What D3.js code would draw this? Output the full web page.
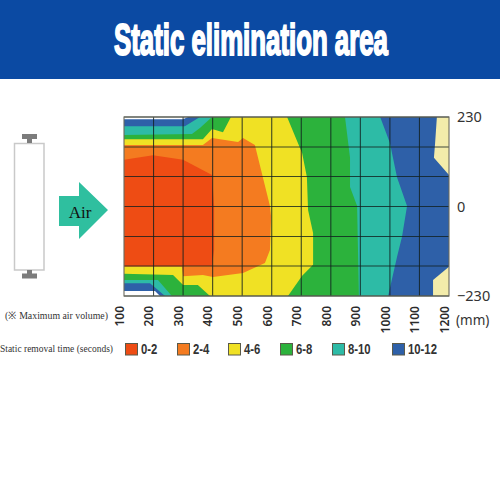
<!DOCTYPE html>
<html>
<head>
<meta charset="utf-8">
<script src="https://cdn.jsdelivr.net/npm/d3@7"></script>
<style>
html,body{margin:0;padding:0;background:#fff}
svg{display:block}
</style>
</head>
<body>
<svg id="chart" width="500" height="500"></svg>
<script>
// Distance from the unit (mm) and lateral offset (mm)
const distanceTicks = [100,200,300,400,500,600,700,800,900,1000,1100,1200];
const offsetTicks = [230,0,-230];
const offsetGrid = [230,153,77,0,-77,-153,-230];

// Removal-time classes
const classes = ["0-2","2-4","4-6","6-8","8-10","10-12"];
const classColors = ["#ee4c14","#f47b20","#f0e124","#2cb23c","#2dbba6","#2e60a8"];

// Outer edge of each time band as [distance, offset]; each band contains the faster ones
const within2 = [[100,120],[198,132],[300,120],[398,81],[405,1],[405,-112],[398,-153],[100,-153]];
const within4 = [[100,158],[367,158],[398,176],[486,166],[503,176],[543,158],[594,1],[598,-27],[594,-112],[577,-145],[503,-171],[401,-181],[367,-176],[300,-179],[296,-155],[100,-155]];
const within6 = [[100,173],[367,173],[398,199],[435,191],[462,230],[652,230],[703,137],[719,76],[723,-9],[740,-68],[740,-150],[703,-178],[655,-230],[391,-230],[350,-202],[300,-202],[266,-176],[100,-173]];
const within8 = [[100,184],[330,186],[357,202],[398,230],[848,230],[865,125],[865,50],[889,1],[895,-230],[262,-230],[215,-189],[100,-189]];
const within10 = [[100,206],[306,206],[357,230],[967,230],[1000,163],[1024,75],[1058,1],[1041,-78],[1024,-130],[994,-230],[239,-230],[188,-197],[100,-197]];
const within12 = [[100,230],[1200,230],[1200,-230],[100,-230]];

// Corners outside the legend's range
const paleTop = [[1159,230],[1153,163],[1149,125],[1200,81],[1200,230]];
const paleBottom = [[1200,-155],[1146,-189],[1146,-230],[1200,-230]];
const blankTop = [[100,230],[100,224],[300,224],[317,230]];
const blankBottom = [[100,-217],[205,-217],[222,-230],[100,-230]];

const svg = d3.select("#chart");
const x = d3.scaleLinear().domain([100,1200]).range([124,449]);
const y = d3.scaleLinear().domain([230,-230]).range([117,296]);
const line = d3.line().x(d=>x(d[0])).y(d=>y(d[1])).curve(d3.curveLinearClosed);

// Header band
svg.append("rect").attr("width",500).attr("height",79).attr("fill","#0b4aa3");
const title = svg.append("text").attr("text-anchor","middle")
  .attr("font-family","'Liberation Sans',sans-serif")
  .attr("font-weight",700).attr("font-size",45)
  .attr("fill","#fff").attr("stroke","#fff").attr("stroke-width",2)
  .text("Static elimination area");
// Condense the heading to its 274px measure
const titleScale = 274 / title.node().getComputedTextLength();
title.attr("transform",`translate(251,55) scale(${titleScale},1)`);

// Filled bands, slowest first
const bands = [
  {pts:within12,fill:classColors[5]},
  {pts:paleTop,fill:"#f3ecaa"},
  {pts:paleBottom,fill:"#f3ecaa"},
  {pts:within10,fill:classColors[4]},
  {pts:within8,fill:classColors[3]},
  {pts:within6,fill:classColors[2]},
  {pts:within4,fill:classColors[1]},
  {pts:within2,fill:classColors[0]},
  {pts:blankTop,fill:"#fff"},
  {pts:blankBottom,fill:"#fff"}
];
svg.append("g").selectAll("path").data(bands).join("path")
  .attr("d",d=>line(d.pts)).attr("fill",d=>d.fill);

// Grid
const grid = svg.append("g").attr("stroke","#12201f").attr("stroke-opacity",0.8).attr("stroke-width",1.1);
grid.selectAll("line.v").data(distanceTicks.slice(1,-1)).join("line").attr("class","v")
  .attr("x1",d=>x(d)).attr("x2",d=>x(d)).attr("y1",y(230)).attr("y2",y(-230));
grid.selectAll("line.h").data(offsetGrid).join("line").attr("class","h")
  .attr("x1",x(100)).attr("x2",x(1200)).attr("y1",d=>y(d)).attr("y2",d=>y(d));
svg.append("rect").attr("x",x(100)).attr("y",y(230))
  .attr("width",x(1200)-x(100)).attr("height",y(-230)-y(230))
  .attr("fill","none").attr("stroke","#6a6a5e").attr("stroke-width",1.1);

// Distance axis, labels turned upright
const xAxis = svg.append("g").attr("transform","translate(0,296)")
  .call(d3.axisBottom(x).tickValues(distanceTicks).tickSize(0).tickFormat(d3.format("d")));
xAxis.select(".domain").remove();
xAxis.selectAll("text")
  .attr("transform","translate(-5,10) rotate(-90)")
  .attr("x",0).attr("y",0).attr("dy","0.36em")
  .attr("text-anchor","end")
  .attr("font-family","'Noto Sans',sans-serif").attr("font-weight",600)
  .attr("font-size",12).attr("fill","#2b2b2b");

// Offset axis on the right
const yAxis = svg.append("g").attr("transform","translate(449,0)")
  .call(d3.axisRight(y).tickValues(offsetTicks).tickSize(0).tickPadding(8)
    .tickFormat(d=>d<0?"\u2212"+Math.abs(d):d));
yAxis.select(".domain").remove();
yAxis.selectAll("text").attr("font-family","'Noto Sans',sans-serif")
  .attr("font-size",14.5).attr("fill","#333");
svg.append("text").attr("x",456).attr("y",325).attr("font-family","'Noto Sans',sans-serif")
  .attr("font-size",13.5).attr("fill","#333").text("(mm)");

// Captions
const serif = "'Liberation Serif',serif";
svg.append("text").attr("x",5).attr("y",319).attr("textLength",103).attr("lengthAdjust","spacingAndGlyphs")
  .attr("font-family",serif).attr("font-size",10.5).attr("fill","#333").text("(\u203B Maximum air volume)");
svg.append("text").attr("x",0).attr("y",352).attr("textLength",113).attr("lengthAdjust","spacingAndGlyphs")
  .attr("font-family",serif).attr("font-size",10.5).attr("fill","#333").text("Static removal time (seconds)");

// Legend
const legendX = [125,177,228,280,332,392];
const legend = svg.append("g").selectAll("g").data(classes).join("g")
  .attr("transform",(d,i)=>`translate(${legendX[i]},343)`);
legend.append("rect").attr("x",0.5).attr("y",0.5).attr("width",12).attr("height",11.5)
  .attr("fill",(d,i)=>classColors[i]).attr("stroke","#5a5a4a").attr("stroke-width",1);
legend.append("text").attr("transform","translate(16,11) scale(0.78,1)")
  .attr("font-family","'Liberation Sans',sans-serif")
  .attr("font-weight",700).attr("font-size",14.5).attr("fill","#333").text(d=>d);

// Bar unit with its mounting brackets
const unit = svg.append("g");
unit.append("rect").attr("x",14.5).attr("y",143.5).attr("width",29.5).attr("height",126.5)
  .attr("fill","#fff").attr("stroke","#c9c9c9").attr("stroke-width",1.5);
unit.append("path").attr("fill","#7c7c7c")
  .attr("d","M22 134H37V139H32V143H27V139H22Z M27 270H32V273.5H37V278.5H22V273.5H27Z");

// Airflow arrow
svg.append("path").attr("fill","#2fbf9f").attr("d","M59 196H79V182L108 210L79 239V226H59Z");
svg.append("text").attr("x",80).attr("y",218).attr("text-anchor","middle")
  .attr("font-family",serif).attr("font-size",17).attr("fill","#111").text("Air");
</script>
</body>
</html>
